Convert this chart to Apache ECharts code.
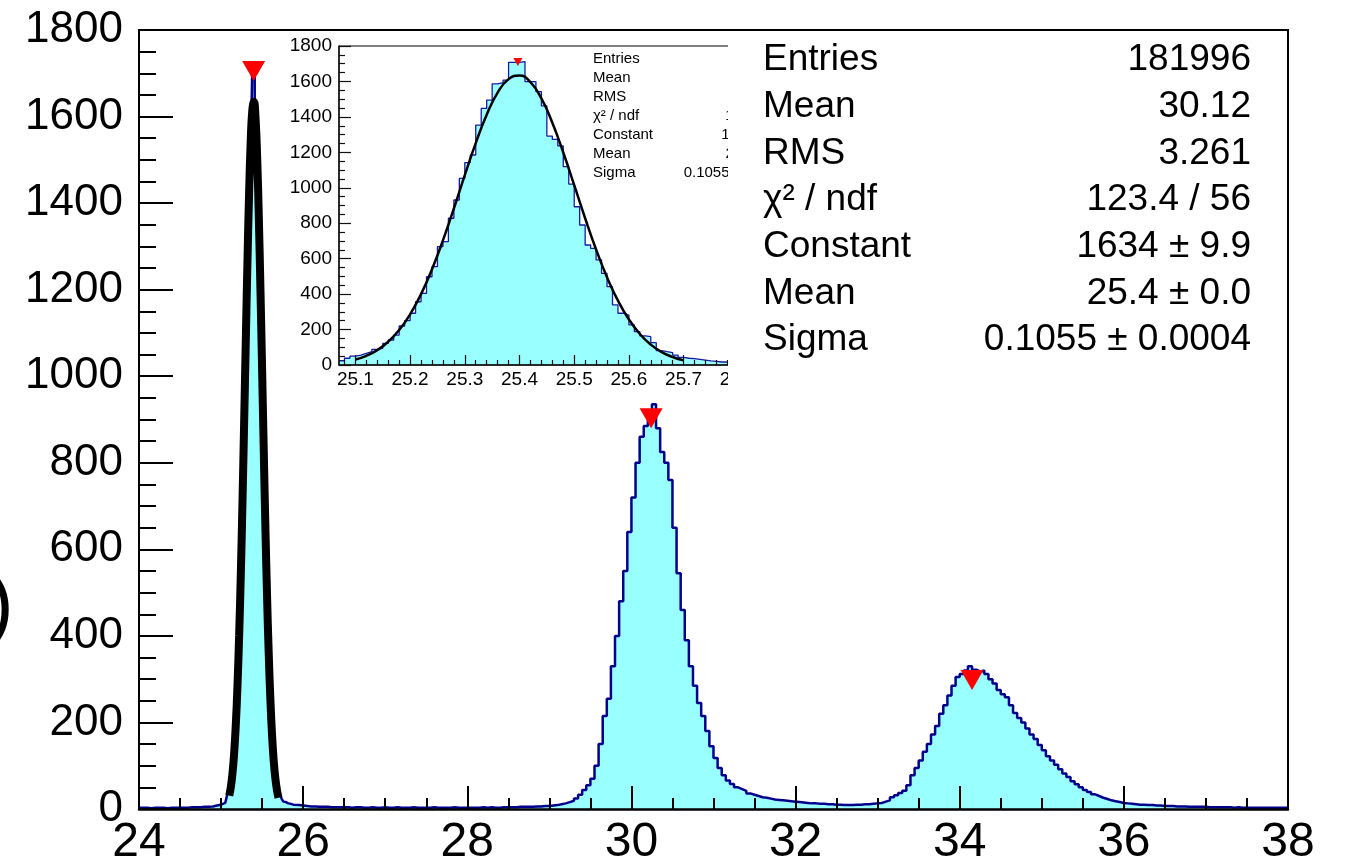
<!DOCTYPE html>
<html>
<head>
<meta charset="utf-8">
<script src="https://cdn.jsdelivr.net/npm/echarts@6/dist/echarts.min.js"></script>
<style>
  html, body { margin: 0; padding: 0; background: #fff; }
  #chart { width: 1345px; height: 861px; }
</style>
</head>
<body>
<div id="chart"></div>
<script>
// histogram (counts per bin)
// 24.00 .. 25.05, 0.05 wide bins
const leftTail = [3, 3, 2, 3, 3, 3, 2, 3, 3, 3, 3, 3, 4, 4, 4, 5, 5, 6, 8, 10, 14];
// 25.05 .. 25.90, 0.01 wide bins (the zoomed peak, also shown in the inset)
const peakCounts = [
  18, 21,
  24, 38, 50, 56, 66, 75, 88, 94, 122, 141,
  169, 220, 250, 292, 357, 404, 498, 555, 668, 696,
  828, 931, 1053, 1142, 1185, 1354, 1448, 1495, 1586, 1593,
  1608, 1708, 1708, 1712, 1599, 1599, 1542, 1462, 1292, 1273,
  1236, 1119, 1021, 893, 790, 677, 658, 593, 517, 442,
  339, 292, 282, 226, 188, 164, 160, 126, 81, 75,
  70, 56, 43, 38, 36, 32, 28, 23, 21, 17,
  17, 16, 15, 14, 13, 13, 12, 12, 11, 11, 10, 10, 9
];
// 25.90 .. 38.00, 0.05 wide bins
const rightCounts = [
  9, 8,
  7, 6, 6, 5, 5, 5, 4, 4, 4, 4, 4, 3, 4, 4, 3, 3, 4, 3, 3, 4,
  3, 3, 4, 3, 3, 3, 4, 3, 3, 3, 3, 4, 3, 3, 3, 3, 4, 3, 3, 3,
  3, 3, 3, 4, 3, 4, 3, 3, 4, 4, 4, 4, 5, 5, 5, 5, 6, 6, 7, 7,
  8, 9, 11, 13, 16, 19, 24, 33, 44, 55, 70, 100, 150, 215, 255, 330, 400, 480, 550, 640,
  720, 800, 860, 885, 900, 935, 880, 825, 800, 760, 650, 545, 460, 390, 330, 285, 245, 215, 180, 145,
  118, 95, 78, 66, 58, 50, 46, 42, 36, 33, 30, 27, 26, 24, 22, 21, 20, 19, 18, 17,
  16, 15, 14, 13, 13, 12, 12, 11, 11, 10, 10, 9, 9, 9, 10, 10, 11, 11, 12, 13,
  14, 17, 20, 27, 32, 37, 42, 55, 78, 95, 112, 132, 150, 172, 192, 220, 240, 262, 285, 305,
  312, 320, 330, 322, 318, 320, 312, 300, 290, 275, 265, 258, 240, 222, 210, 200, 186, 172, 162, 148,
  136, 122, 112, 102, 92, 82, 74, 64, 57, 50, 44, 39, 34, 30, 26, 23, 20, 18, 16, 14,
  13, 12, 11, 10, 10, 9, 9, 8, 8, 7, 7, 7, 6, 6, 6, 5, 5, 5, 5, 5,
  4, 4, 4, 4, 4, 4, 3, 4, 3, 3, 3, 3, 3, 3, 3, 3, 3, 3, 3, 3
];
// gaus fit curve, 25.10 .. 25.70 every 0.02
const fitValues = [
  31, 52, 84, 131, 197, 286, 400, 540, 703, 883, 1071, 1252, 1412, 1537, 1613, 1634,
  1596, 1504, 1367, 1199, 1015, 828, 652, 495, 363, 257, 175, 115, 73, 45, 26
];
// peak markers
const peakX = [25.397, 30.24, 34.15];
const peakY = [1705, 903, 298];
const insetPeak = [25.397, 1710];

const insetXTicks = [25.1, 25.2, 25.3, 25.4, 25.5, 25.6, 25.7, 25.8];
const statsLabels = ["Entries", "Mean", "RMS", "χ² / ndf", "Constant", "Mean", "Sigma"];
const statsValues = ["181996", "30.12", "3.261", "123.4 / 56", "1634 ± 9.9", "25.4 ± 0.0", "0.1055 ± 0.0004"];

const FONT = '"Liberation Sans", Arial, Helvetica, sans-serif';

// build step data
const mainData = [];
leftTail.forEach((v, i) => mainData.push([+(24 + i * 0.05).toFixed(2), v]));
peakCounts.forEach((v, i) => mainData.push([+(25.05 + i * 0.01).toFixed(2), v]));
rightCounts.forEach((v, i) => mainData.push([+(25.9 + i * 0.05).toFixed(2), v]));
mainData.push([38, rightCounts[rightCounts.length - 1]]);

const insetData = [];
peakCounts.slice(2).forEach((v, i) => insetData.push([+(25.07 + i * 0.01).toFixed(2), v]));
insetData.push([25.9, peakCounts[peakCounts.length - 1]]);

const fitData = fitValues.map((v, i) => [+(25.1 + i * 0.02).toFixed(2), v]);

// minor ticks of the inset x axis, every 0.02
const insetXMinor = [];
for (let k = 1254; k <= 1293; k++) {
  if (k % 5 !== 0) insetXMinor.push(+(k * 0.02).toFixed(2));
}

const plain = v => String(v);

const chart = echarts.init(document.getElementById("chart"));

const graphics = [
  // inset pad
  { type: "rect", z: 10, shape: { x: 278, y: 33, width: 460, height: 355 }, style: { fill: "#fff" } },
  // big stats box
  { type: "rect", z: 20, shape: { x: 728, y: 32, width: 558, height: 356 }, style: { fill: "#fff" } },
  // cut-off y title
  { type: "text", z: 21, style: { text: ")", x: -13, y: 608, fontSize: 80, fontFamily: FONT, fill: "#000", verticalAlign: "middle" } }
];
statsLabels.forEach((s, i) => {
  graphics.push({ type: "text", z: 21, style: { text: s, x: 763, y: 60 + i * 46.7, fontSize: 37, fontFamily: FONT, fill: "#000", align: "left", verticalAlign: "middle" } });
  graphics.push({ type: "text", z: 21, style: { text: statsValues[i], x: 1251, y: 60 + i * 46.7, fontSize: 37, fontFamily: FONT, fill: "#000", align: "right", verticalAlign: "middle" } });
  // inset stats (mostly hidden under the big box)
  graphics.push({ type: "text", z: 14, style: { text: s, x: 593, y: 59 + i * 19, fontSize: 15, fontFamily: FONT, fill: "#000", align: "left", verticalAlign: "middle" } });
  graphics.push({ type: "text", z: 14, style: { text: statsValues[i], x: 792, y: 59 + i * 19, fontSize: 15, fontFamily: FONT, fill: "#000", align: "right", verticalAlign: "middle" } });
});

chart.setOption({
  animation: false,
  backgroundColor: "#fff",
  grid: [
    { left: 139, top: 30, width: 1149, height: 779, outerBoundsMode: "none", containLabel: false, show: true, borderColor: "#000", borderWidth: 2, backgroundColor: "transparent" },
    { left: 339, top: 46, width: 437.6, height: 319, outerBoundsMode: "none", containLabel: false, show: true, borderColor: "#000", borderWidth: 1, backgroundColor: "transparent", z: 13 }
  ],
  xAxis: [
    {
      type: "value", gridIndex: 0, min: 24, max: 38, interval: 2, z: 4,
      axisLine: { lineStyle: { color: "#000", width: 2.5 } },
      axisTick: { inside: true, length: 23, lineStyle: { color: "#000", width: 2 } },
      minorTick: { show: true, splitNumber: 4, length: 11, lineStyle: { color: "#000", width: 2 } },
      axisLabel: { fontSize: 48, fontFamily: FONT, color: "#000", margin: 10, formatter: plain },
      splitLine: { show: false }
    },
    {
      type: "value", gridIndex: 1, min: 25.07, max: 25.87, z: 13, position: "bottom",
      axisLine: { lineStyle: { color: "#111", width: 1.5 } },
      axisTick: { inside: true, length: 10, customValues: insetXTicks, lineStyle: { color: "#111", width: 1.2 } },
      axisLabel: { fontSize: 19, fontFamily: FONT, color: "#000", margin: 5, customValues: insetXTicks, formatter: v => v.toFixed(1) },
      splitLine: { show: false }
    },
    {
      type: "value", gridIndex: 1, min: 25.07, max: 25.87, z: 13, position: "bottom",
      axisLine: { show: false },
      axisTick: { inside: true, length: 5, customValues: insetXMinor, lineStyle: { color: "#111", width: 1.2 } },
      axisLabel: { show: false },
      splitLine: { show: false }
    }
  ],
  yAxis: [
    {
      type: "value", gridIndex: 0, min: 0, max: 1800, interval: 200, z: 4,
      axisLine: { show: true, lineStyle: { color: "#000", width: 2 } },
      axisTick: { show: true, inside: true, length: 34, lineStyle: { color: "#000", width: 2 } },
      minorTick: { show: true, splitNumber: 4, length: 17, lineStyle: { color: "#000", width: 2 } },
      axisLabel: { fontSize: 44, fontFamily: FONT, color: "#000", margin: 16, formatter: plain },
      splitLine: { show: false }
    },
    {
      type: "value", gridIndex: 1, min: 0, max: 1800, interval: 200, z: 13,
      axisLine: { show: true, lineStyle: { color: "#111", width: 1.5 } },
      axisTick: { show: true, inside: true, length: 12, lineStyle: { color: "#111", width: 1.2 } },
      minorTick: { show: true, splitNumber: 4, length: 6, lineStyle: { color: "#111", width: 1.2 } },
      axisLabel: { fontSize: 19, fontFamily: FONT, color: "#000", margin: 7, formatter: plain },
      splitLine: { show: false }
    }
  ],
  series: [
    {
      type: "line", xAxisIndex: 0, yAxisIndex: 0, step: "end", data: mainData, showSymbol: false, z: 2,
      lineStyle: { color: "#00008b", width: 2.5 },
      areaStyle: { color: "#99ffff", opacity: 1 }
    },
    {
      type: "line", xAxisIndex: 0, yAxisIndex: 0, smooth: true, data: fitData, showSymbol: false, z: 3,
      lineStyle: { color: "#000", width: 8 }
    },
    {
      type: "scatter", xAxisIndex: 0, yAxisIndex: 0, z: 5,
      data: peakX.map((x, i) => [x, peakY[i]]),
      symbol: "triangle", symbolRotate: 180, symbolSize: [23, 20],
      itemStyle: { color: "#ff0000", opacity: 1 }
    },
    {
      type: "line", xAxisIndex: 1, yAxisIndex: 1, step: "end", data: insetData, showSymbol: false, z: 11,
      lineStyle: { color: "#1a1aa0", width: 1.3 },
      areaStyle: { color: "#99ffff", opacity: 1 }
    },
    {
      type: "line", xAxisIndex: 1, yAxisIndex: 1, smooth: true, data: fitData, showSymbol: false, z: 12,
      lineStyle: { color: "#000", width: 2.5 }
    },
    {
      type: "scatter", xAxisIndex: 1, yAxisIndex: 1, z: 14,
      data: [insetPeak],
      symbol: "triangle", symbolRotate: 180, symbolSize: [9, 8],
      itemStyle: { color: "#ff0000", opacity: 1 }
    }
  ],
  graphic: graphics
});
</script>
</body>
</html>
